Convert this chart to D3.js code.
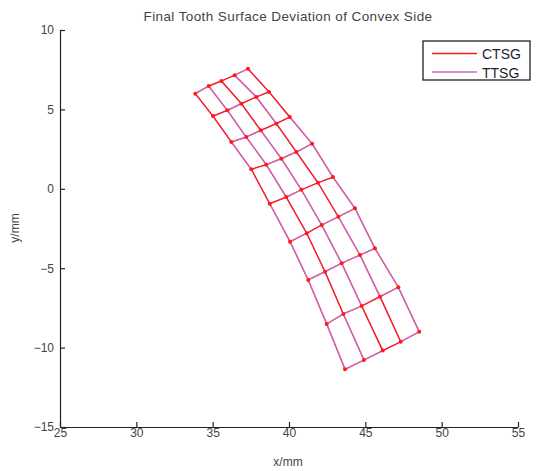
<!DOCTYPE html>
<meta charset="utf-8">
<style>

body {
  margin: 0;
  background: #fff;
}

text {
  font-family: "Liberation Sans", Arial, sans-serif;
}

</style>
<body>
<div id="chart"></div>
</body>

<script src="https://d3js.org/d3.v7.min.js"></script>
<script>

    // grid nodes (mm): 9 sections along the profile, 5 points across the face
    var ttsgX = [
        [33.86, 34.74, 35.57, 36.44, 37.31],
        [35.02, 35.96, 36.88, 37.86, 38.69],
        [36.22, 37.20, 38.15, 39.17, 40.05],
        [37.53, 38.51, 39.50, 40.48, 41.51],
        [38.74, 39.82, 40.81, 41.90, 42.88],
        [40.07, 41.16, 42.14, 43.23, 44.32],
        [41.26, 42.36, 43.45, 44.65, 45.63],
        [42.47, 43.56, 44.76, 45.96, 47.16],
        [43.67, 44.91, 46.14, 47.32, 48.53]
    ];
    var ttsgY = [
        [5.99, 6.47, 6.79, 7.15, 7.56],
        [4.58, 4.94, 5.36, 5.78, 6.10],
        [2.95, 3.26, 3.68, 4.10, 4.52],
        [1.23, 1.52, 1.90, 2.32, 2.84],
        [-0.94, -0.52, -0.06, 0.38, 0.74],
        [-3.33, -2.80, -2.28, -1.76, -1.23],
        [-5.74, -5.22, -4.69, -4.17, -3.75],
        [-8.51, -7.88, -7.38, -6.79, -6.20],
        [-11.37, -10.78, -10.19, -9.63, -9.00]
    ];
    // CTSG normal deviation from TTSG at each node (um), out of the x-y plane
    var ctsgDev = [
        [-3, 1, 2, 1, -3],
        [4, -2, 2, -1, 4],
        [-3.5, -0.5, 0.3, 1, 1],
        [3, -2, -3, 2, -3],
        [2, -1, -1, 3, 2],
        [-3, 2, 1, -2, -3],
        [-3, 1, -2, -2, -3],
        [-3, 0.5, -1, 2, -3],
        [-3, -4, 3, -1, -3]
    ];

    var xTicks = [25, 30, 35, 40, 45, 50, 55],
        yTicks = [-15, -10, -5, 0, 5, 10],
        seriesNames = ["CTSG", "TTSG"];

    var width = 542,
        height = 471,
        colors = {CTSG: "#ff1a1a", TTSG: "#c66cc6"};

    var svg = d3.select("#chart").append("svg")
            .attr("width", width)
            .attr("height", height);

    var x = d3.scaleLinear().domain([25, 55]).range([60, 518]);
    var y = d3.scaleLinear().domain([-15, 10]).range([427, 30]);

    // axes, MATLAB style ticks pointing inwards
    var xAxis = svg.append("g")
            .attr("transform", "translate(0,427)")
            .call(d3.axisBottom(x).tickValues(xTicks).tickSizeInner(-5).tickSizeOuter(0).tickPadding(1));
    var yAxis = svg.append("g")
            .attr("transform", "translate(60,0)")
            .call(d3.axisLeft(y).tickValues(yTicks).tickSizeInner(-5).tickSizeOuter(0).tickPadding(6));

    [xAxis, yAxis].forEach(function(g) {
        g.select(".domain").attr("stroke", "#222").attr("stroke-width", 1.2);
        g.selectAll(".tick line").attr("stroke", "#222").attr("stroke-width", 1.2);
        g.selectAll(".tick text")
                .attr("fill", "#444")
                .style("font-size", "12px")
                .style("font-family", "Liberation Sans, Arial, sans-serif");
    });

    svg.append("text")
            .attr("x", 288)
            .attr("y", 21)
            .attr("text-anchor", "middle")
            .attr("fill", "#444")
            .style("font-size", "13.5px")
            .style("letter-spacing", "0.4px")
            .text("Final Tooth Surface Deviation of Convex Side");

    svg.append("text")
            .attr("x", 288)
            .attr("y", 466)
            .attr("text-anchor", "middle")
            .attr("fill", "#444")
            .style("font-size", "12px")
            .text("x/mm");

    svg.append("text")
            .attr("transform", "translate(19,228) rotate(-90)")
            .attr("text-anchor", "middle")
            .attr("fill", "#444")
            .style("font-size", "12px")
            .text("y/mm");

    // mesh segments along the rows and the columns
    var segs = [];
    ttsgX.forEach(function(row, i) {
        row.forEach(function(v, j) {
            if (j < row.length - 1) segs.push({i0: i, j0: j, i1: i, j1: j + 1});
            if (i < ttsgX.length - 1) segs.push({i0: i, j0: j, i1: i + 1, j1: j});
        });
    });

    // both surfaces, painted back to front by their normal position
    var layers = [];
    segs.forEach(function(s) {
        layers.push({s: s, name: "CTSG", z: (ctsgDev[s.i0][s.j0] + ctsgDev[s.i1][s.j1]) / 2, order: 0});
        layers.push({s: s, name: "TTSG", z: 0, order: 1});
    });
    layers.sort(function(a, b) { return (a.z - b.z) || (a.order - b.order); });

    svg.append("g").selectAll("line")
            .data(layers)
            .enter().append("line")
            .attr("x1", function(d) { return x(ttsgX[d.s.i0][d.s.j0]); })
            .attr("y1", function(d) { return y(ttsgY[d.s.i0][d.s.j0]); })
            .attr("x2", function(d) { return x(ttsgX[d.s.i1][d.s.j1]); })
            .attr("y2", function(d) { return y(ttsgY[d.s.i1][d.s.j1]); })
            .attr("stroke", function(d) { return colors[d.name]; })
            .attr("stroke-width", 1.3)
            .attr("stroke-linecap", "round");

    var nodes = [];
    ttsgX.forEach(function(row, i) {
        row.forEach(function(v, j) { nodes.push({x: v, y: ttsgY[i][j]}); });
    });

    svg.append("g").selectAll("circle")
            .data(nodes)
            .enter().append("circle")
            .attr("cx", function(d) { return x(d.x); })
            .attr("cy", function(d) { return y(d.y); })
            .attr("r", 2)
            .attr("fill", colors.CTSG);

    // legend
    var legend = svg.append("g");
    legend.append("rect")
            .attr("x", 423)
            .attr("y", 41)
            .attr("width", 107)
            .attr("height", 39)
            .attr("fill", "#fff")
            .attr("stroke", "#222")
            .attr("stroke-width", 1.3);

    seriesNames.forEach(function(name, k) {
        var ly = 53.5 + k * 18.5;
        legend.append("line")
                .attr("x1", 432).attr("x2", 477)
                .attr("y1", ly).attr("y2", ly)
                .attr("stroke", colors[name])
                .attr("stroke-width", 1.3);
        legend.append("text")
                .attr("x", 482)
                .attr("y", ly + 5.5)
                .attr("fill", "#1e1e30")
                .style("font-size", "14px")
                .text(name);
    });

</script>
